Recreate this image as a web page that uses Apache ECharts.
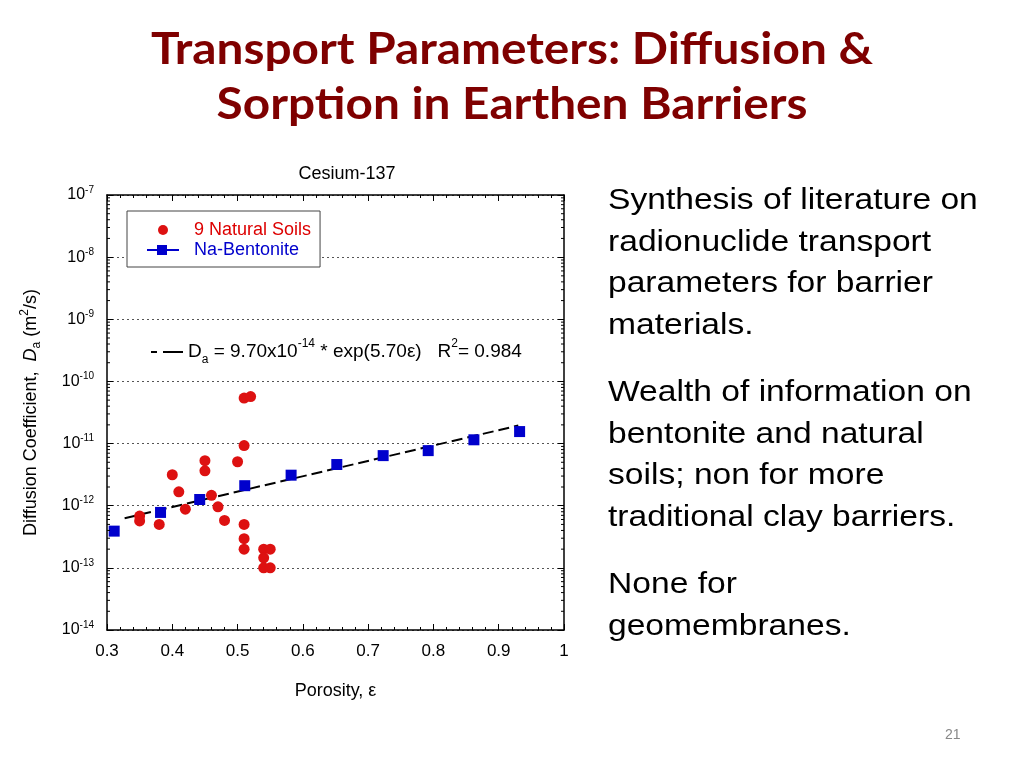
<!DOCTYPE html>
<html>
<head>
<meta charset="utf-8">
<script src="https://cdn.jsdelivr.net/npm/echarts@6/dist/echarts.min.js"></script>
<style>
  body { margin: 0; background: #fff; }
  #slide { position: relative; width: 1024px; height: 768px; overflow: hidden; font-family: 'Liberation Sans', Arial, sans-serif; }
  #chart-container { position: absolute; left: 0; top: 0; width: 1024px; height: 768px; }
  .slide-title { position: absolute; left: 0; top: 20px; width: 1024px; text-align: center; color: #7f0000; font-family: Lato, 'Open Sans', sans-serif; font-weight: bold; font-size: 44px; line-height: 55px; transform: scaleX(1.085); transform-origin: 512px 0; }
  .bullets { position: absolute; left: 608px; top: 178px; font-size: 30px; line-height: 41.5px; color: #000; transform: scaleX(1.12); transform-origin: left top; }
  .bullets p { margin: 0 0 26px 0; }
  .page-num { position: absolute; left: 945px; top: 726px; font-size: 14px; color: #888; }
</style>
</head>
<body>
<div id="slide">
  <div id="chart-container"></div>
  <div class="slide-title">Transport Parameters: Diffusion &amp;<br>Sorption in Earthen Barriers</div>
  <div class="bullets">
    <p>Synthesis of literature on<br>radionuclide transport<br>parameters for barrier<br>materials.</p>
    <p>Wealth of information on<br>bentonite and natural<br>soils; non for more<br>traditional clay barriers.</p>
    <p>None for<br>geomembranes.</p>
  </div>
  <div class="page-num">21</div>
</div>
<script>
// Data
const soilPorosity = [0.35, 0.35, 0.38, 0.40, 0.41, 0.42, 0.45, 0.45, 0.46, 0.47, 0.48, 0.50, 0.51, 0.52, 0.51, 0.51, 0.51, 0.51, 0.54, 0.55, 0.54, 0.54, 0.55];
const soilDa = [6.8e-13, 5.7e-13, 5.0e-13, 3.15e-12, 1.67e-12, 8.8e-13, 5.3e-12, 3.65e-12, 1.47e-12, 9.6e-13, 5.8e-13, 5.1e-12, 5.4e-11, 5.7e-11, 9.3e-12, 5.0e-13, 2.95e-13, 2.0e-13, 2.0e-13, 2.0e-13, 1.45e-13, 1.0e-13, 1.0e-13];

const bentPorosity = [0.311, 0.382, 0.442, 0.511, 0.582, 0.652, 0.723, 0.792, 0.862, 0.932];
const bentDa = [3.9e-13, 7.8e-13, 1.26e-12, 2.1e-12, 3.1e-12, 4.6e-12, 6.4e-12, 7.7e-12, 1.15e-11, 1.56e-11];

// fitted line end points (straight on a log axis)
const fitPorosity = [0.327, 0.93];
const fitDa = [6.3e-13, 1.95e-11];

// log-spaced minor ticks for the y axis
const minorMultipliers = [2, 3, 4, 5, 6, 7, 8, 9];
const decades = [-14, -13, -12, -11, -10, -9, -8];

const xTickLabels = ['0.3', '0.4', '0.5', '0.6', '0.7', '0.8', '0.9', '1'];

const chartContainer = document.getElementById('chart-container');
const myChart = echarts.init(chartContainer);

const zip = (xs, ys) => xs.map((x, i) => [x, ys[i]]);
const minorVals = [];
decades.forEach(d => minorMultipliers.forEach(m => minorVals.push([0.3, m * Math.pow(10, d)])));

const FONT = "'Liberation Sans', Arial, sans-serif";
const bentIcon = 'path://M0,4H10V0H20V4H32V6H20V10H10V6H0Z';
const fitIcon = 'path://M0,4H6V6H0Z M12,4H32V6H12Z';

const supRich = {
  b: { fontSize: 16, fontFamily: FONT, color: '#000', lineHeight: 20 },
  s: { fontSize: 10, fontFamily: FONT, color: '#000', lineHeight: 12, verticalAlign: 'top' }
};

const xAxisBase = {
  type: 'value',
  min: 0.3,
  max: 1,
  interval: 0.1,
  axisLine: { show: true, lineStyle: { color: '#000', width: 1.5 } },
  axisTick: { show: true, inside: true, length: 6, lineStyle: { color: '#000' } },
  minorTick: { show: true, splitNumber: 5, length: 3, lineStyle: { color: '#000' } },
  splitLine: { show: false }
};

const yAxisBase = {
  type: 'log',
  logBase: 10,
  min: 1e-14,
  max: 1e-7,
  splitNumber: 7,
  axisLine: { show: true, lineStyle: { color: '#000', width: 1.5 } },
  axisTick: { show: true, inside: true, length: 6, lineStyle: { color: '#000' } }
};

const option = {
  animation: false,
  textStyle: { fontFamily: FONT },
  title: {
    text: 'Cesium-137',
    left: 342,
    top: 160,
    textAlign: 'center',
    textStyle: { fontSize: 18, fontWeight: 'normal', color: '#000', fontFamily: FONT }
  },
  grid: { left: 107, top: 195, width: 457, height: 435, containLabel: false },
  legend: [
    {
      orient: 'vertical',
      left: 127,
      top: 211,
      padding: [9, 9, 7, 20],
      itemGap: 0,
      itemWidth: 32,
      itemHeight: 10,
      borderColor: '#444',
      borderWidth: 1,
      backgroundColor: '#fff',
      textStyle: { fontSize: 18, fontFamily: FONT, lineHeight: 20, padding: [0, 0, 0, 10] },
      data: [
        { name: '9 Natural Soils', icon: 'circle', textStyle: { color: '#dd0000' } },
        { name: 'Na-Bentonite', icon: bentIcon, textStyle: { color: '#0000cc' } }
      ]
    },
    {
      left: 146,
      top: 333,
      itemWidth: 32,
      itemHeight: 10,
      data: [{ name: 'fit', icon: fitIcon }],
      formatter: () => '{t|D}{sub|a}{t| = 9.70x10}{sup|-14}{t| * exp(5.70\u03b5)   R}{sup|2}{t|= 0.984}',
      textStyle: {
        rich: {
          t: { fontSize: 19, fontFamily: FONT, color: '#000', lineHeight: 28 },
          sub: { fontSize: 12, fontFamily: FONT, color: '#000', lineHeight: 12, verticalAlign: 'bottom' },
          sup: { fontSize: 12, fontFamily: FONT, color: '#000', lineHeight: 14, verticalAlign: 'top' }
        }
      }
    }
  ],
  xAxis: [
    Object.assign({}, xAxisBase, {
      position: 'bottom',
      name: 'Porosity, \u03b5',
      nameLocation: 'middle',
      nameGap: 52,
      nameTextStyle: { fontSize: 18, color: '#000', fontFamily: FONT },
      axisLabel: {
        margin: 13,
        fontSize: 17,
        color: '#000',
        formatter: v => xTickLabels[Math.round((v - 0.3) * 10)]
      }
    }),
    Object.assign({}, xAxisBase, { position: 'top', axisLabel: { show: false } })
  ],
  yAxis: [
    Object.assign({}, yAxisBase, {
      position: 'left',
      name: '{t|Diffusion Coefficient,  }{i|D}{sub|a}{t| (m}{sup|2}{t|/s)}',
      nameLocation: 'middle',
      nameGap: 64,
      nameRotate: 90,
      nameTextStyle: {
        rich: {
          t: { fontSize: 18, fontFamily: FONT, color: '#000', lineHeight: 24 },
          i: { fontSize: 18, fontFamily: FONT, fontStyle: 'italic', color: '#000', lineHeight: 24 },
          sub: { fontSize: 12, fontFamily: FONT, color: '#000', lineHeight: 12, verticalAlign: 'bottom' },
          sup: { fontSize: 12, fontFamily: FONT, color: '#000', lineHeight: 14, verticalAlign: 'top' }
        }
      },
      axisLabel: {
        margin: 13,
        formatter: v => '{b|10}{s|' + Math.round(Math.log10(v)) + '}',
        rich: supRich
      },
      splitLine: { show: true, lineStyle: { color: '#555', type: [2, 3], width: 1 } }
    }),
    Object.assign({}, yAxisBase, {
      position: 'right',
      axisLabel: { show: false },
      splitLine: { show: false }
    })
  ],
  series: [
    {
      name: 'fit',
      type: 'line',
      data: zip(fitPorosity, fitDa),
      showSymbol: false,
      symbol: 'none',
      z: 2,
      color: '#000',
      lineStyle: { color: '#000', width: 2, type: [11, 5] }
    },
    {
      name: '9 Natural Soils',
      type: 'scatter',
      data: zip(soilPorosity, soilDa),
      symbol: 'circle',
      symbolSize: 11,
      z: 3,
      itemStyle: { color: '#dd1111', opacity: 1 }
    },
    {
      name: 'Na-Bentonite',
      type: 'scatter',
      data: zip(bentPorosity, bentDa),
      symbol: 'rect',
      symbolSize: 11,
      z: 4,
      itemStyle: { color: '#0000cc', opacity: 1 }
    },
    {
      name: 'minor',
      type: 'custom',
      silent: true,
      data: minorVals,
      z: 5,
      renderItem: (params, api) => {
        const pt = api.coord([0.3, api.value(1)]);
        const cs = params.coordSys;
        const l = cs.x, r = cs.x + cs.width;
        return {
          type: 'group',
          children: [
            { type: 'line', shape: { x1: l, y1: pt[1], x2: l + 3, y2: pt[1] }, style: { stroke: '#000', lineWidth: 1 } },
            { type: 'line', shape: { x1: r - 3, y1: pt[1], x2: r, y2: pt[1] }, style: { stroke: '#000', lineWidth: 1 } }
          ]
        };
      }
    }
  ]
};

myChart.setOption(option);
</script>
</body>
</html>
